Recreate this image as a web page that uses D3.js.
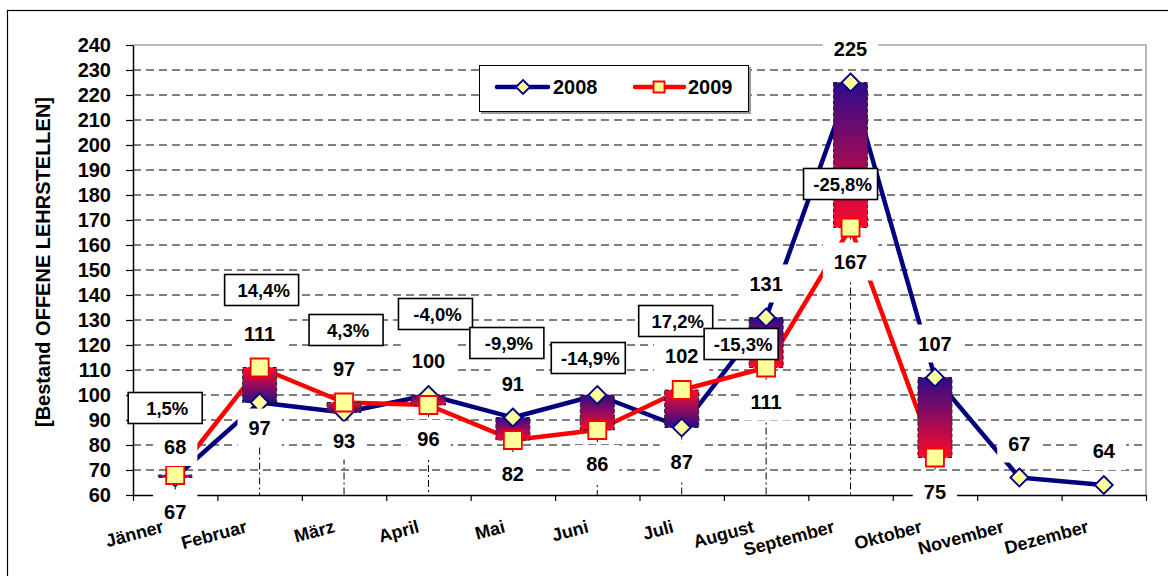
<!DOCTYPE html>
<html>
<head>
<meta charset="utf-8">
<script src="https://cdn.jsdelivr.net/npm/d3@7"></script>
<style>
  body { margin: 0; background: #fff; }
  svg text { font-family: "Liberation Sans", Arial, sans-serif; font-weight: bold; fill: #000; }
</style>
</head>
<body>
<div id="chart"></div>
<script>
// chart data
var months = ["Jänner", "Februar", "März", "April", "Mai", "Juni", "Juli",
  "August", "September", "Oktober", "November", "Dezember"];
var values2008 = [67, 97, 93, 100, 91, 100, 87, 131, 225, 107, 67, 64];
var values2009 = [68, 111, 97, 96, 82, 86, 102, 111, 167, 75, null, null];
var changeLabels = ["1,5%", "14,4%", "4,3%", "-4,0%", "-9,9%", "-14,9%", "17,2%", "-15,3%", "-25,8%"];
var yTicks = d3.range(60, 241, 10);

// hand placed change boxes: [px offset from month, y value]
var changeBoxPos = [[-10, 94.8], [2, 142], [2, 126], [7, 132.4], [-6, 120.8],
  [-9, 114.8], [-6, 129.6], [-25, 120.4], [-10, 184.4]];
// labels that were nudged by hand in the original (px, "month-series")
var labelNudge = { "0-2009": 6, "1-2008": -9, "2-2008": -6 };

var width = 1168, height = 576;
var plot = { left: 133, right: 1146, top: 45, bottom: 495 };

var svg = d3.select("#chart").append("svg")
  .attr("width", width)
  .attr("height", height);

var defs = svg.append("defs");

var x = d3.scaleBand().domain(months).range([plot.left, plot.right]).padding(0);
var y = d3.scaleLinear().domain([60, 240]).range([plot.bottom, plot.top]);
var cx = function (i) { return x(months[i]) + x.bandwidth() / 2; };

// outer frame
svg.append("rect")
  .attr("x", 7.5).attr("y", 10.5)
  .attr("width", 1200).attr("height", 600)
  .attr("fill", "none").attr("stroke", "#000").attr("stroke-width", 1.2);

// gridlines
svg.append("g").selectAll("line")
  .data(yTicks.filter(function (d) { return d > 60 && d < 240; }))
  .enter().append("line")
  .attr("x1", plot.left).attr("x2", plot.right)
  .attr("y1", function (d) { return y(d); })
  .attr("y2", function (d) { return y(d); })
  .attr("stroke", "#000").attr("stroke-width", 1)
  .attr("stroke-dasharray", "8,5");

// plot area border (top and right)
svg.append("path")
  .attr("d", "M" + plot.left + "," + y(240) + "H" + plot.right + "V" + plot.bottom)
  .attr("fill", "none").attr("stroke", "#a0a0a0").attr("stroke-width", 1.5);

// drop lines from the lower value to the axis
var barIdx = months.map(function (m, i) { return i; }).filter(function (i) { return values2009[i] != null; });
svg.append("g").selectAll("line")
  .data(barIdx)
  .enter().append("line")
  .attr("x1", cx).attr("x2", cx)
  .attr("y1", function (i) { return y(Math.min(values2008[i], values2009[i])); })
  .attr("y2", plot.bottom)
  .attr("stroke", "#000").attr("stroke-width", 1)
  .attr("stroke-dasharray", "7,3,2,3");

// y axis
var yAxis = svg.append("g")
  .attr("transform", "translate(" + plot.left + ",0)")
  .call(d3.axisLeft(y).tickValues(yTicks).tickSize(7).tickPadding(15).tickSizeOuter(0));
yAxis.select(".domain").attr("stroke", "#000").attr("stroke-width", 1.5);
yAxis.selectAll(".tick line").attr("stroke", "#000").attr("stroke-width", 1.2);
yAxis.selectAll(".tick text").attr("font-size", 20).attr("font-family", null).attr("fill", "#000");

// x axis: ticks on the month borders
var xi = d3.scaleLinear().domain([0, months.length]).range([plot.left, plot.right]);
var xAxis = svg.append("g")
  .attr("transform", "translate(0," + plot.bottom + ")")
  .call(d3.axisBottom(xi).tickValues(d3.range(0, months.length + 1))
    .tickSize(6).tickSizeOuter(0).tickFormat(""));
xAxis.select(".domain").attr("stroke", "#000").attr("stroke-width", 1.5);
xAxis.selectAll(".tick line").attr("stroke", "#000").attr("stroke-width", 1.2);

// y title
svg.append("text")
  .attr("transform", "translate(50," + 262 + ") rotate(-90)")
  .attr("text-anchor", "middle")
  .attr("font-size", 20)
  .text("[Bestand OFFENE LEHRSTELLEN]");

// series lines
var line = d3.line()
  .defined(function (d) { return d != null; })
  .x(function (d, i) { return cx(i); })
  .y(function (d) { return y(d); });

svg.append("path").datum(values2008)
  .attr("d", line).attr("fill", "none")
  .attr("stroke", "#000080").attr("stroke-width", 4.5).attr("stroke-linejoin", "round");
svg.append("path").datum(values2009)
  .attr("d", line).attr("fill", "none")
  .attr("stroke", "#ff0000").attr("stroke-width", 4.5).attr("stroke-linejoin", "round");

// up-down bars, gradient runs from the 2008 end (indigo) to the 2009 end (red)
barIdx.forEach(function (i) {
  var g = defs.append("linearGradient")
    .attr("id", "bar" + i)
    .attr("gradientUnits", "userSpaceOnUse")
    .attr("x1", 0).attr("x2", 0)
    .attr("y1", y(values2008[i])).attr("y2", y(values2009[i]));
  g.append("stop").attr("offset", 0).attr("stop-color", "#2c0c8c");
  g.append("stop").attr("offset", 1).attr("stop-color", "#ff0a2a");
});
svg.append("g").selectAll("rect")
  .data(barIdx)
  .enter().append("rect")
  .attr("x", function (i) { return cx(i) - 17; })
  .attr("width", 34)
  .attr("y", function (i) { return y(Math.max(values2008[i], values2009[i])); })
  .attr("height", function (i) { return Math.abs(y(values2008[i]) - y(values2009[i])); })
  .attr("fill", function (i) { return "url(#bar" + i + ")"; })
  .attr("stroke", "#222").attr("stroke-width", 1).attr("stroke-dasharray", "4,2");

// markers
function diamond(sel, r) {
  sel.attr("d", "M0," + (-r) + "L" + r + ",0L0," + r + "L" + (-r) + ",0Z")
    .attr("fill", "#ffff99").attr("stroke", "#000080").attr("stroke-width", 1.8);
}
function square(sel, s) {
  sel.attr("d", "M" + (-s) + "," + (-s) + "H" + s + "V" + s + "H" + (-s) + "Z")
    .attr("fill", "#ffff99").attr("stroke", "#ff0000").attr("stroke-width", 1.8);
}
svg.append("g").selectAll("path")
  .data(values2008).enter().append("path")
  .attr("transform", function (d, i) { return "translate(" + cx(i) + "," + y(d) + ")"; })
  .call(diamond, 9);
svg.append("g").selectAll("path")
  .data(values2009.map(function (d, i) { return { v: d, i: i }; }).filter(function (d) { return d.v != null; }))
  .enter().append("path")
  .attr("transform", function (d) { return "translate(" + cx(d.i) + "," + y(d.v) + ")"; })
  .call(square, 9);

// change box centres in px
var boxXY = changeLabels.map(function (d, i) {
  return [cx(i) + changeBoxPos[i][0], y(changeBoxPos[i][1])];
});

// value labels on white boxes: higher value above, lower below
var labels = [];
months.forEach(function (m, i) {
  var a = values2008[i], b = values2009[i];
  if (b == null) { labels.push({ i: i, v: a, s: 2008, pos: -1 }); return; }
  labels.push({ i: i, v: a, s: 2008, pos: a > b ? -1 : 1 });
  labels.push({ i: i, v: b, s: 2009, pos: b > a ? -1 : 1 });
});
labels.forEach(function (d) {
  d.ly = y(d.v) + d.pos * 34 + (labelNudge[d.i + "-" + d.s] || 0);
});
// a label sitting under a change box is not shown
labels = labels.filter(function (d) {
  var lx = cx(d.i);
  return !boxXY.some(function (b) { return Math.abs(b[0] - lx) < 50 && Math.abs(b[1] - d.ly) < 20; });
});
var lab = svg.append("g").selectAll("g")
  .data(labels).enter().append("g")
  .attr("transform", function (d) { return "translate(" + cx(d.i) + "," + d.ly + ")"; });
lab.append("rect").attr("fill", "#fff");
lab.append("text")
  .attr("text-anchor", "middle").attr("dy", "0.36em")
  .attr("font-size", 20)
  .text(function (d) { return d.v; });
lab.each(function () {
  var w = d3.select(this).select("text").node().getComputedTextLength() + 22;
  d3.select(this).select("rect").attr("x", -w / 2).attr("y", -19).attr("width", w).attr("height", 38);
});

// change boxes
var chg = svg.append("g").selectAll("g")
  .data(changeLabels).enter().append("g")
  .attr("transform", function (d, i) { return "translate(" + boxXY[i][0] + "," + boxXY[i][1] + ")"; });
chg.append("rect")
  .attr("x", -37).attr("y", -15.5).attr("width", 74).attr("height", 31)
  .attr("fill", "#fff").attr("stroke", "#000").attr("stroke-width", 1.6);
chg.append("text")
  .attr("x", 2).attr("text-anchor", "middle").attr("dy", "0.36em")
  .attr("font-size", 18.5)
  .text(function (d) { return d; });

// month labels, slanted
svg.append("g").selectAll("text")
  .data(months)
  .enter().append("text")
  .attr("font-size", 18)
  .attr("text-anchor", "end")
  .text(function (d) { return d; })
  .attr("transform", function (d, i) {
    var len = this.getComputedTextLength();
    return "translate(" + (cx(i) - 3 - 0.13 * len) + ",532) rotate(-15)";
  });

// legend
var leg = svg.append("g");
leg.append("rect").attr("x", 481).attr("y", 67).attr("width", 270).attr("height", 47).attr("fill", "#999");
leg.append("rect").attr("x", 479.5).attr("y", 65.5).attr("width", 269).attr("height", 46)
  .attr("fill", "#fff").attr("stroke", "#000").attr("stroke-width", 1);
leg.append("line").attr("x1", 497).attr("x2", 548).attr("y1", 87).attr("y2", 87)
  .attr("stroke", "#000080").attr("stroke-width", 4.5).attr("stroke-linecap", "round");
leg.append("path").attr("transform", "translate(523,87)").call(diamond, 7);
leg.append("text").attr("x", 553).attr("y", 87).attr("dy", "0.36em").attr("font-size", 20).text("2008");
leg.append("line").attr("x1", 635).attr("x2", 684).attr("y1", 87).attr("y2", 87)
  .attr("stroke", "#ff0000").attr("stroke-width", 4.5).attr("stroke-linecap", "round");
leg.append("path").attr("transform", "translate(659,87)").call(square, 5.5);
leg.append("text").attr("x", 688).attr("y", 87).attr("dy", "0.36em").attr("font-size", 20).text("2009");
</script>
</body>
</html>
